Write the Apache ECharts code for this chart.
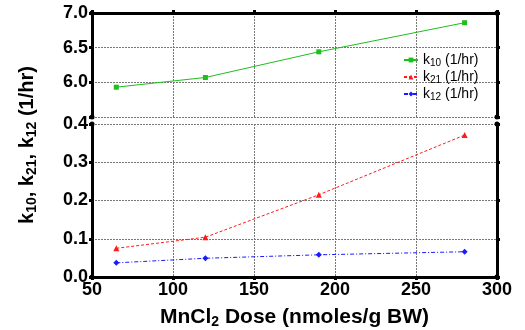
<!DOCTYPE html>
<html><head><meta charset="utf-8">
<script src="https://cdn.jsdelivr.net/npm/echarts@6/dist/echarts.min.js"></script>
<style>html,body{margin:0;padding:0;background:#fff}#c{width:525px;height:330px}</style>
</head><body><div id="c"></div>
<script>
const doses = [65, 120, 190, 280];
const k10 = [5.93, 6.07, 6.44, 6.86];
const k21 = [0.075, 0.104, 0.215, 0.371];
const k12 = [0.037, 0.049, 0.058, 0.066];
const xRange = [50, 300];
const topRange = [5.5, 7.0];
const bottomRange = [0, 0.4];
const names = ['k10 (1/hr)', 'k21 (1/hr)', 'k12 (1/hr)'];

const pairs = arr => doses.map((d, i) => [d, arr[i]]);
const FONT = 'Liberation Sans, Arial, sans-serif';
const split = () => ({ show: true, lineStyle: { color: '#777', type: [2, 1], width: 1 } });
const axLine = () => ({ show: true, onZero: false, lineStyle: { color: '#000', width: 3 } });
const tick = () => ({ show: true, length: 3, lineStyle: { color: '#000', width: 3 } });
const lbl = () => ({ fontFamily: FONT, fontWeight: 'bold', fontSize: 18, color: '#000', margin: 4 });
const frame = (yEdge) => ({
  silent: true, animation: false, label: { show: false }, emphasis: { disabled: true },
  lineStyle: { color: '#000', width: 3, type: 'solid' },
  symbol: ['circle', 'circle'], symbolSize: 5,
  data: [
    { xAxis: xRange[0] },
    { xAxis: xRange[1] },
    { yAxis: yEdge, symbol: 'none' }
  ]
});

const chart = echarts.init(document.getElementById('c'), null, { renderer: 'canvas' });
chart.setOption({
  animation: false,
  grid: [
    { left: 92, right: 28, top: 13, height: 104 },
    { left: 92, right: 28, top: 124, height: 154 }
  ],
  xAxis: [
    { gridIndex: 0, type: 'value', position: 'top', min: xRange[0], max: xRange[1], interval: 50,
      axisLine: axLine(), axisTick: tick(), axisLabel: { show: false }, splitLine: split() },
    { gridIndex: 1, type: 'value', position: 'bottom', min: xRange[0], max: xRange[1], interval: 50,
      axisLine: axLine(), axisTick: tick(), axisLabel: lbl(), splitLine: split(),
      name: '{n|MnCl}{s|2}{n| Dose (nmoles/g BW)}', nameLocation: 'middle', nameGap: 28,
      nameTextStyle: { rich: {
        n: { fontFamily: FONT, fontWeight: 'bold', fontSize: 21, lineHeight: 24, color: '#000' },
        s: { fontFamily: FONT, fontWeight: 'bold', fontSize: 14, lineHeight: 14, verticalAlign: 'bottom', color: '#000' }
      } } }
  ],
  yAxis: [
    { gridIndex: 0, type: 'value', min: topRange[0], max: topRange[1], interval: 0.5, position: 'left',
      axisLine: axLine(), axisTick: tick(), splitLine: split(),
      axisLabel: Object.assign(lbl(), { formatter: v => v < 5.9 ? '' : v.toFixed(1) }) },
    { gridIndex: 0, type: 'value', min: topRange[0], max: topRange[1], interval: 0.5, position: 'right',
      axisLine: axLine(), axisTick: tick(), splitLine: { show: false }, axisLabel: { show: false } },
    { gridIndex: 1, type: 'value', min: bottomRange[0], max: bottomRange[1], interval: 0.1, position: 'left',
      axisLine: axLine(), axisTick: tick(), splitLine: split(),
      axisLabel: Object.assign(lbl(), { formatter: v => v.toFixed(1) }) },
    { gridIndex: 1, type: 'value', min: bottomRange[0], max: bottomRange[1], interval: 0.1, position: 'right',
      axisLine: axLine(), axisTick: tick(), splitLine: { show: false }, axisLabel: { show: false } }
  ],
  legend: {
    orient: 'vertical', left: 398, top: 48, itemWidth: 14, itemHeight: 6, itemGap: 2,
    data: names,
    formatter: n => '{n|k}{s|' + n.slice(1, 3) + '}{n| (1/hr)}',
    textStyle: { rich: {
      n: { fontFamily: FONT, fontSize: 14, lineHeight: 16, color: '#000' },
      s: { fontFamily: FONT, fontSize: 10, lineHeight: 10, verticalAlign: 'bottom', color: '#000' }
    } }
  },
  series: [
    { name: names[0], type: 'line', xAxisIndex: 0, yAxisIndex: 0, data: pairs(k10),
      symbol: 'rect', symbolSize: 5, color: '#1cbf1c', lineStyle: { width: 1, color: '#1cbf1c' },
      markLine: frame(topRange[1]) },
    { name: names[1], type: 'line', xAxisIndex: 1, yAxisIndex: 2, data: pairs(k21),
      symbol: 'triangle', symbolSize: 6, color: '#ff1a1a', lineStyle: { width: 1, type: [3, 2], color: '#ff1a1a' },
      markLine: frame(bottomRange[0]) },
    { name: names[2], type: 'line', xAxisIndex: 1, yAxisIndex: 2, data: pairs(k12),
      symbol: 'diamond', symbolSize: 6, color: '#1a1aff', lineStyle: { width: 1, type: [4, 2, 1, 2], color: '#1a1aff' } }
  ],
  graphic: [{
    type: 'text', x: 27, y: 145, rotation: Math.PI / 2,
    style: {
      text: '{n|k}{s|10}{n|, k}{s|21}{n|, k}{s|12}{n| (1/hr)}',
      align: 'center', verticalAlign: 'middle',
      rich: {
        n: { fontFamily: FONT, fontWeight: 'bold', fontSize: 20, lineHeight: 24, fill: '#000' },
        s: { fontFamily: FONT, fontWeight: 'bold', fontSize: 14, lineHeight: 14, verticalAlign: 'bottom', fill: '#000' }
      }
    }
  }]
});
</script></body></html>
